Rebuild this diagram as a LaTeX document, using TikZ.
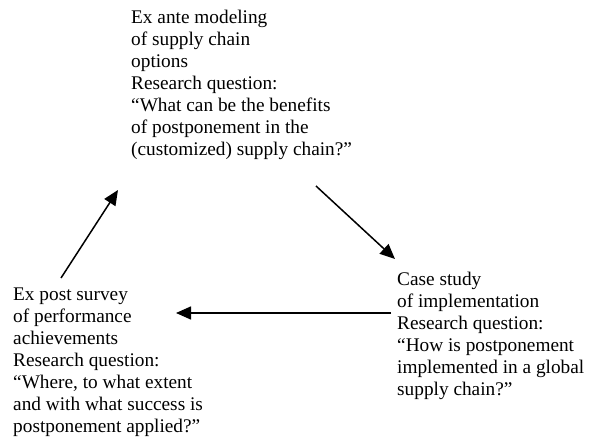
\documentclass[tikz,border=0pt]{standalone}
\usepackage{fontspec}
\setmainfont{Liberation Serif}
\usetikzlibrary{arrows.meta}
\begin{document}
\begin{tikzpicture}[x=1pt,y=-1pt,
  blk/.style={anchor=north west,inner sep=0pt,align=left,font=\fontsize{19.3}{22}\selectfont},
  arr/.style={line width=1.5pt,-{Triangle[length=15pt,width=13pt]}}]
\useasboundingbox (0,0) rectangle (589,441);
\node[blk] (top) at (131,10) {Ex ante modeling\\of supply chain\\options\\Research question:\\``What can be the benefits\\of postponement in the\\(customized) supply chain?''};
\node[blk] (left) at (13,288) {Ex post survey\\of performance\\achievements\\Research question:\\``Where, to what extent\\and with what success is\\postponement applied?''};
\node[blk] (right) at (397,272) {Case study\\of implementation\\Research question:\\``How is postponement\\implemented in a global\\supply chain?''};
\coordinate (a1s) at (61,278);
\coordinate (a1e) at (118,190);
\coordinate (a2s) at (316,186);
\coordinate (a2e) at (395,259);
\coordinate (a3s) at (391,313);
\coordinate (a3e) at (176,313);
\draw[arr] (a1s) -- (a1e);
\draw[arr] (a2s) -- (a2e);
\draw[arr] (a3s) -- (a3e);
\end{tikzpicture}
\end{document}
